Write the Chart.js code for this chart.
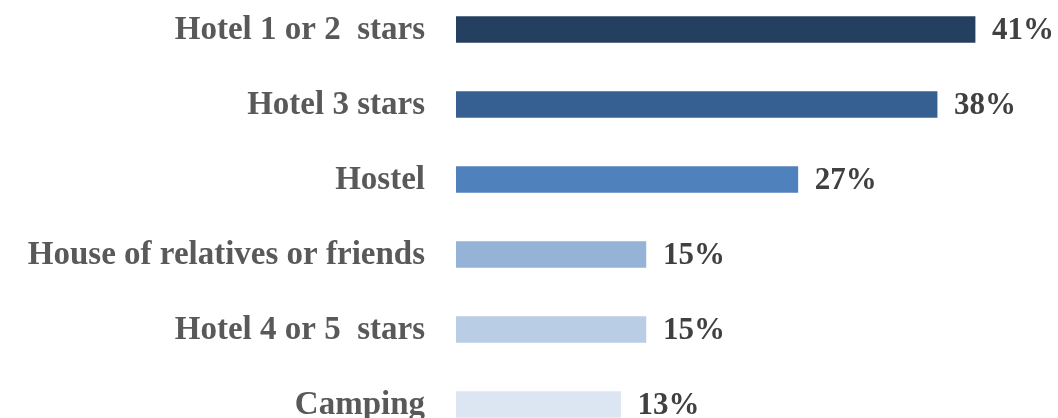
<!DOCTYPE html>
<html>
<head>
<meta charset="utf-8">
<script src="https://cdn.jsdelivr.net/npm/chart.js@4.4.1/dist/chart.umd.min.js"></script>
<style>
  html, body { margin: 0; padding: 0; background: #fff; overflow: hidden; }
  #wrap { position: absolute; left: 0; top: -8px; width: 1058px; height: 450px; }
</style>
</head>
<body>
<div id="wrap"><canvas id="chart"></canvas></div>
<script>
// Accommodation type and share of respondents (%)
const categories = [
  'Hotel 1 or 2  stars',
  'Hotel 3 stars',
  'Hostel',
  'House of relatives or friends',
  'Hotel 4 or 5  stars',
  'Camping'
];
const shares = [41, 38, 27, 15, 15, 13];
const barColors = ['#243F60', '#376092', '#4F81BD', '#95B3D7', '#B9CDE5', '#DCE6F2'];

const FONT = '"Liberation Serif", "Times New Roman", serif';

// Writes "NN%" just past the end of each bar
const valueLabels = {
  id: 'valueLabels',
  afterDatasetsDraw(chart) {
    const { ctx } = chart;
    const meta = chart.getDatasetMeta(0);
    ctx.save();
    ctx.font = 'bold 31px ' + FONT;
    ctx.fillStyle = '#404040';
    ctx.textAlign = 'left';
    ctx.textBaseline = 'middle';
    meta.data.forEach((bar, i) => {
      ctx.fillText(shares[i] + '%', bar.x + 17, bar.y + 1);
    });
    ctx.restore();
  }
};

new Chart(document.getElementById('chart'), {
  type: 'bar',
  data: {
    labels: categories,
    datasets: [{
      data: shares,
      backgroundColor: barColors,
      borderWidth: 0,
      barThickness: 26
    }]
  },
  options: {
    indexAxis: 'y',
    responsive: true,
    maintainAspectRatio: false,
    animation: false,
    layout: { padding: 0 },
    plugins: {
      legend: { display: false },
      tooltip: { enabled: false }
    },
    scales: {
      x: {
        display: false,
        min: 0,
        max: 47.55
      },
      y: {
        afterFit(scale) {
          scale.width = 456;
          scale.paddingTop = 0;
          scale.paddingBottom = 0;
        },
        grid: { display: false, drawTicks: false },
        border: { display: false },
        ticks: {
          padding: 31,
          labelOffset: 1,
          color: '#595959',
          font: { family: FONT, size: 33, weight: 'bold' }
        }
      }
    }
  },
  plugins: [valueLabels]
});
</script>
</body>
</html>
